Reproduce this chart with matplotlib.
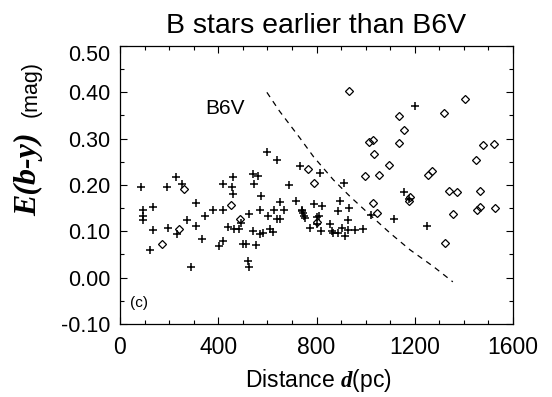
import matplotlib
matplotlib.use("Agg")
import matplotlib.pyplot as plt
from matplotlib.ticker import MultipleLocator, FormatStrFormatter
from matplotlib.transforms import ScaledTranslation

plt.rcParams['font.family'] = ['Liberation Sans', 'DejaVu Sans']
plt.rcParams['axes.unicode_minus'] = False
plt.rcParams['mathtext.fontset'] = 'custom'
plt.rcParams['mathtext.rm'] = 'Liberation Sans'
plt.rcParams['mathtext.bfit'] = 'Liberation Serif:bold:italic'

# Stars plotted with "+" : distance (pc), E(b-y) (mag)
plus_d = [84, 92, 92, 92, 133, 122, 133, 193, 194, 227, 234, 254, 274, 289, 311, 311,
          335, 346, 378, 418, 418, 405, 418, 439, 455, 459, 459, 466, 486, 493, 500, 513,
          520, 527, 527, 541, 547, 561, 568, 541, 553, 568, 574, 581, 598, 604, 611, 622,
          625, 641, 638, 652, 652, 666, 690, 717, 731, 740, 747, 751, 743, 754, 774, 788,
          815, 804, 910, 894, 887, 934, 928, 822, 812, 804, 818, 856, 862, 869, 889, 903,
          914, 930, 957, 991, 1021, 1116, 1202, 1158, 1178, 1249]
plus_e = [0.195, 0.145, 0.133, 0.125, 0.152, 0.060, 0.103, 0.195, 0.108, 0.217, 0.094,
          0.202, 0.125, 0.022, 0.161, 0.112, 0.083, 0.134, 0.146, 0.202, 0.145, 0.068,
          0.079, 0.110, 0.195, 0.217, 0.180, 0.105, 0.105, 0.117, 0.072, 0.072, 0.036,
          0.022, 0.138, 0.224, 0.202, 0.220, 0.145, 0.101, 0.071, 0.094, 0.177, 0.097,
          0.272, 0.133, 0.104, 0.099, 0.145, 0.254, 0.126, 0.126, 0.164, 0.145, 0.200,
          0.166, 0.240, 0.145, 0.140, 0.134, 0.143, 0.128, 0.108, 0.159, 0.225, 0.132,
          0.204, 0.166, 0.143, 0.150, 0.125, 0.155, 0.133, 0.115, 0.101, 0.115, 0.101,
          0.096, 0.097, 0.107, 0.091, 0.103, 0.103, 0.106, 0.135, 0.127, 0.371, 0.184,
          0.170, 0.112]

# Stars plotted with open diamonds
dia_d = [172, 240, 261, 452, 490, 767, 788, 804, 933, 1012, 1032, 1035, 998, 1056, 1097,
         1028, 1046, 1137, 1157, 1137, 1255, 1272, 1181, 1175, 1320, 1405, 1340, 1372,
         1355, 1323, 1450, 1477, 1521, 1467, 1453, 1467, 1528]
dia_e = [0.073, 0.106, 0.192, 0.156, 0.127, 0.234, 0.205, 0.120, 0.402, 0.292, 0.297,
         0.267, 0.220, 0.222, 0.243, 0.162, 0.140, 0.348, 0.318, 0.290, 0.222, 0.231,
         0.175, 0.166, 0.355, 0.385, 0.187, 0.184, 0.138, 0.074, 0.254, 0.287, 0.289,
         0.188, 0.146, 0.152, 0.150]

# B6V limiting curve
b6v_d = [598, 650, 733, 788, 869, 937, 1025, 1100, 1181, 1276, 1355]
b6v_e = [0.400, 0.359, 0.301, 0.261, 0.211, 0.175, 0.132, 0.096, 0.060, 0.024, -0.009]

W, H = 552, 397
fig = plt.figure(figsize=(W / 100, H / 100), dpi=100)
ax = fig.add_axes([120 / W, 1 - 324 / H, 393 / W, 278 / H])

ax.plot(plus_d, plus_e, linestyle='none', marker='+', color='black',
        markersize=5.8, markeredgewidth=1.1)
ax.plot(dia_d, dia_e, linestyle='none', marker='D', markerfacecolor='none',
        markeredgecolor='black', markersize=4.3, markeredgewidth=0.9)
ax.plot(b6v_d, b6v_e, linestyle=(0, (4.5, 4)), color='black', linewidth=0.9)

ax.text(428, 0.366, 'B6V', fontsize=15, ha='center', va='center')
ax.text(77, -0.055, '(c)', fontsize=11, ha='center', va='center')

ax.set_xlim(0, 1600)
ax.set_ylim(-0.10, 0.50)
ax.xaxis.set_major_locator(MultipleLocator(400))
ax.xaxis.set_minor_locator(MultipleLocator(100))
ax.yaxis.set_major_locator(MultipleLocator(0.1))
ax.yaxis.set_minor_locator(MultipleLocator(0.05))
ax.yaxis.set_major_formatter(FormatStrFormatter('%.2f'))
ax.tick_params(which='both', direction='in', top=True, right=True, width=0.8)
ax.tick_params(which='major', length=5)
ax.tick_params(which='minor', length=2.8)
ax.tick_params(axis='y', which='major', labelsize=15.5, pad=7)
ax.tick_params(axis='x', which='major', labelsize=16.5, pad=9)
for s in ax.spines.values():
    s.set_linewidth(0.9)

fig.canvas.draw()
# top y tick label (0.50) sits a little below its tick in the reference
for tick in ax.yaxis.get_major_ticks():
    if abs(tick.get_loc() - 0.5) < 1e-6:
        lab = tick.label1
        lab.set_transform(lab.get_transform() + ScaledTranslation(0, -7 / 100, fig.dpi_scale_trans))

ax.set_title('B stars earlier than B6V', fontsize=20.5, pad=9.5)

# x label: sans + bold italic serif d
fig.text(318.5 / W, 1 - 387 / H, 'Distance $\\mathbfit{d}$(pc)', fontsize=16.5,
         ha='center', va='baseline')

# y label in two parts
fig.text(29 / W, 1 - 174 / H, 'E(b-y)', fontsize=23, family='Liberation Serif',
         weight='bold', style='italic', rotation=90, ha='center', va='center')
fig.text(31 / W, 1 - 89 / H, '(mag)', fontsize=15.5,
         rotation=90, ha='center', va='center')

fig.savefig('out.png', dpi=100)
